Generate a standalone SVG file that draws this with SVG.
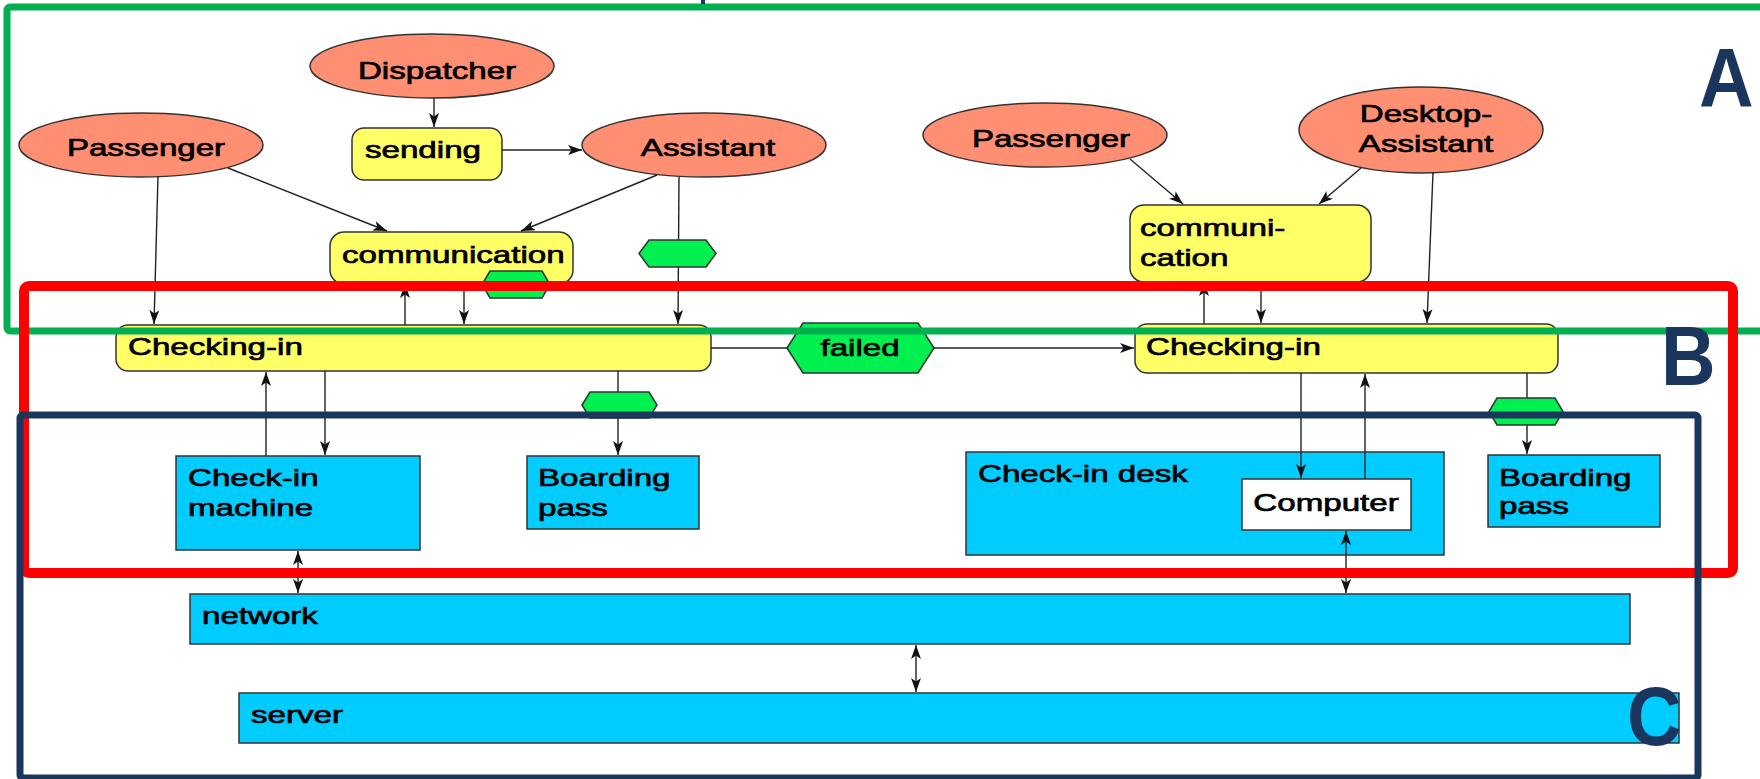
<svg xmlns="http://www.w3.org/2000/svg" width="1760" height="779" viewBox="0 0 1760 779">
  <style>
    .actor { fill: #FF8F72; stroke: #333; stroke-width: 1.5; }
    .proc { fill: #FFFF66; stroke: #333; stroke-width: 1.5; }
    .dev { fill: #00CCFF; stroke: #333; stroke-width: 1.5; }
    .white { fill: #FFFFFF; stroke: #333; stroke-width: 1.5; }
    .hex { fill: #00F050; stroke: #333; stroke-width: 1.5; }
    .lbl { font-family: "Liberation Sans", Arial, sans-serif; font-size: 24px; fill: #000; stroke: #000; stroke-width: 0.7; }
    .mid { text-anchor: middle; }
    .edge { fill: none; stroke: #222; stroke-width: 1.4; }
    .arr { marker-end: url(#ah); }
    .both { marker-start: url(#ah); marker-end: url(#ah); }
    .frame { fill: none; }
    .tag { font-family: "Liberation Sans", Arial, sans-serif; font-weight: bold; font-size: 84px; fill: #1B365D; }
  </style>
  <defs>
    <marker id="ah" markerUnits="userSpaceOnUse" markerWidth="15" markerHeight="11" refX="14" refY="5" orient="auto-start-reverse">
      <path d="M0,0 L14,5 L0,10 L3.5,5 z" fill="#111"/>
    </marker>
  </defs>

  <rect width="1760" height="779" fill="#FFFFFF"/>

  <!-- actors -->
  <g id="dispatcher">
    <ellipse class="actor" cx="432" cy="66" rx="122" ry="32"/>
    <text class="lbl mid" transform="translate(437,79) scale(1.38,1)">Dispatcher</text>
  </g>
  <g id="passenger-1">
    <ellipse class="actor" cx="141" cy="145" rx="122" ry="32"/>
    <text class="lbl mid" transform="translate(146,156) scale(1.38,1)">Passenger</text>
  </g>
  <g id="assistant">
    <ellipse class="actor" cx="704" cy="145" rx="122" ry="32"/>
    <text class="lbl mid" transform="translate(708,156) scale(1.38,1)">Assistant</text>
  </g>
  <g id="passenger-2">
    <ellipse class="actor" cx="1045" cy="135" rx="122" ry="32"/>
    <text class="lbl mid" transform="translate(1051,147) scale(1.38,1)">Passenger</text>
  </g>
  <g id="desktop-assistant">
    <ellipse class="actor" cx="1421" cy="130" rx="122" ry="43"/>
    <text class="lbl mid" transform="translate(1426,122) scale(1.38,1)">Desktop-</text>
    <text class="lbl mid" transform="translate(1426,152) scale(1.38,1)">Assistant</text>
  </g>

  <!-- processes -->
  <g id="sending">
    <rect class="proc" x="352" y="128" width="150" height="52" rx="12"/>
    <text class="lbl" transform="translate(365,158) scale(1.38,1)">sending</text>
  </g>
  <g id="communication-1">
    <rect class="proc" x="330" y="232" width="243" height="52" rx="14"/>
    <text class="lbl" transform="translate(342,263) scale(1.38,1)">communication</text>
  </g>
  <g id="communication-2">
    <rect class="proc" x="1130" y="205" width="241" height="77" rx="14"/>
    <text class="lbl" transform="translate(1140,236) scale(1.38,1)">communi-</text>
    <text class="lbl" transform="translate(1140,266) scale(1.38,1)">cation</text>
  </g>
  <g id="checking-in-1">
    <rect class="proc" x="116" y="325" width="595" height="46" rx="12"/>
    <text class="lbl" transform="translate(128,355) scale(1.38,1)">Checking-in</text>
  </g>
  <g id="checking-in-2">
    <rect class="proc" x="1135" y="324" width="423" height="49" rx="12"/>
    <text class="lbl" transform="translate(1146,355) scale(1.38,1)">Checking-in</text>
  </g>

  <!-- devices -->
  <g id="check-in-machine">
    <rect class="dev" x="176" y="456" width="244" height="94"/>
    <text class="lbl" transform="translate(188,486) scale(1.38,1)">Check-in</text>
    <text class="lbl" transform="translate(188,516) scale(1.38,1)">machine</text>
  </g>
  <g id="boarding-pass-1">
    <rect class="dev" x="527" y="456" width="172" height="73"/>
    <text class="lbl" transform="translate(538,486) scale(1.38,1)">Boarding</text>
    <text class="lbl" transform="translate(538,516) scale(1.38,1)">pass</text>
  </g>
  <g id="check-in-desk">
    <rect class="dev" x="966" y="452" width="478" height="103"/>
    <text class="lbl" transform="translate(978,482) scale(1.38,1)">Check-in desk</text>
  </g>
  <g id="computer">
    <rect class="white" x="1242" y="479" width="169" height="51"/>
    <text class="lbl mid" transform="translate(1326,511) scale(1.38,1)">Computer</text>
  </g>
  <g id="boarding-pass-2">
    <rect class="dev" x="1488" y="455" width="172" height="72"/>
    <text class="lbl" transform="translate(1499,486) scale(1.38,1)">Boarding</text>
    <text class="lbl" transform="translate(1499,514) scale(1.38,1)">pass</text>
  </g>
  <g id="network">
    <rect class="dev" x="190" y="594" width="1440" height="50"/>
    <text class="lbl" transform="translate(202,624) scale(1.38,1)">network</text>
  </g>
  <g id="server">
    <rect class="dev" x="239" y="693" width="1440" height="50"/>
    <text class="lbl" transform="translate(251,723) scale(1.38,1)">server</text>
  </g>

  <!-- connectors -->
  <g id="connectors">
    <line class="edge arr" x1="434" y1="98" x2="434" y2="127"/>
    <line class="edge arr" x1="502" y1="150" x2="582" y2="150"/>
    <line class="edge arr" x1="228" y1="168" x2="387" y2="231"/>
    <line class="edge arr" x1="158" y1="176" x2="154" y2="324"/>
    <line class="edge arr" x1="657" y1="175" x2="521" y2="231"/>
    <line class="edge arr" x1="679" y1="177" x2="678" y2="324"/>
    <line class="edge arr" x1="405" y1="325" x2="405" y2="284"/>
    <line class="edge arr" x1="464" y1="284" x2="464" y2="324"/>
    <line class="edge" x1="711" y1="348" x2="787" y2="348"/>
    <line class="edge arr" x1="934" y1="348" x2="1134" y2="348"/>
    <line class="edge arr" x1="1130" y1="159" x2="1183" y2="204"/>
    <line class="edge arr" x1="1361" y1="168" x2="1319" y2="204"/>
    <line class="edge arr" x1="1433" y1="172" x2="1427" y2="323"/>
    <line class="edge arr" x1="1204" y1="324" x2="1204" y2="282"/>
    <line class="edge arr" x1="1261" y1="282" x2="1261" y2="323"/>
    <line class="edge arr" x1="325" y1="371" x2="325" y2="455"/>
    <line class="edge arr" x1="266" y1="456" x2="266" y2="372"/>
    <line class="edge arr" x1="618" y1="371" x2="618" y2="455"/>
    <line class="edge arr" x1="1301" y1="373" x2="1301" y2="478"/>
    <line class="edge arr" x1="1365" y1="479" x2="1365" y2="374"/>
    <line class="edge arr" x1="1527" y1="373" x2="1527" y2="454"/>
    <line class="edge both" x1="298" y1="551" x2="298" y2="593"/>
    <line class="edge both" x1="1346" y1="531" x2="1346" y2="593"/>
    <line class="edge both" x1="916" y1="645" x2="916" y2="692"/>
  </g>

  <!-- data objects on the flows -->
  <g id="hex-communication">
    <polygon class="hex" points="482,284.5 490,271 542,271 550,284.5 542,298 490,298"/>
  </g>
  <g id="hex-assistant">
    <polygon class="hex" points="639,253.5 649,240 706,240 716,253.5 706,267 649,267"/>
  </g>
  <g id="failed">
    <polygon class="hex" points="787,348 803,323 918,323 934,348 918,373 803,373"/>
    <text class="lbl mid" transform="translate(860,356) scale(1.38,1)">failed</text>
  </g>
  <g id="hex-boarding-1">
    <polygon class="hex" points="582,405 590,392 649,392 657,405 649,418 590,418"/>
  </g>
  <g id="hex-boarding-2">
    <polygon class="hex" points="1489,411.5 1497,398 1555,398 1563,411.5 1555,425 1497,425"/>
  </g>

  <!-- layer frames -->
  <g id="frame-a">
    <rect class="frame" x="7" y="7" width="1800" height="324" rx="3" stroke="#00B050" stroke-width="7"/>
    <line x1="703" y1="0" x2="703" y2="4" stroke="#1B365D" stroke-width="4"/>
  </g>
  <g id="frame-b">
    <rect class="frame" x="24" y="286" width="1709" height="287" rx="5" stroke="#FF0000" stroke-width="10"/>
  </g>
  <g id="frame-c">
    <rect class="frame" x="20" y="415" width="1678" height="363" rx="3" stroke="#1B365D" stroke-width="7"/>
  </g>

  <!-- layer tags -->
  <g id="tags">
    <text class="tag" transform="translate(1699,107) scale(0.9,1)">A</text>
    <text class="tag" transform="translate(1661,385) scale(0.9,1)">B</text>
    <text class="tag" transform="translate(1627,745) scale(0.9,1)">C</text>
  </g>
</svg>
